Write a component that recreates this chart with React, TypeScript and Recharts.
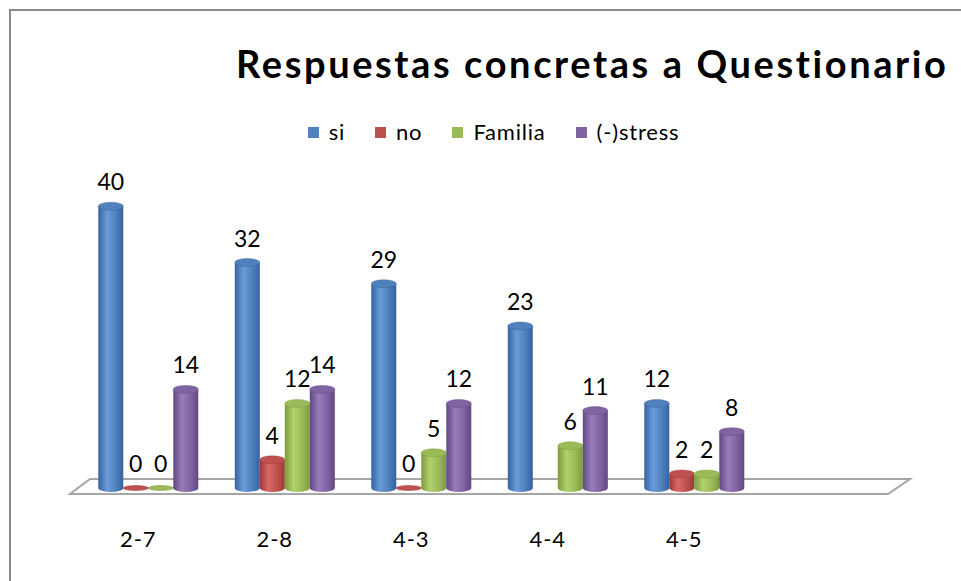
import React from "react";
import { BarChart, Bar, XAxis, YAxis, LabelList, Legend, ReferenceArea } from "recharts";

const categories = ["2-7", "2-8", "4-3", "4-4", "4-5", ""];
const siValues = [40, 32, 29, 23, 12, null];
const noValues = [0, 4, 0, null, 2, null];
const familiaValues = [0, 12, 5, 6, 2, null];
const stressValues = [14, 14, 12, 11, 8, null];

const seriesDefs = [
  { key: "si", name: "si", color: "#4F81BD", light: "#6a9bdb", dark: "#35639c" },
  { key: "no", name: "no", color: "#C0504D", light: "#d96966", dark: "#9c3835" },
  { key: "familia", name: "Familia", color: "#9BBB59", light: "#b0d16c", dark: "#7c9a3e" },
  { key: "stress", name: "(-)stress", color: "#8064A2", light: "#977bbb", dark: "#5f4882" },
];

const data = categories.map((c, i) => ({
  cat: c,
  si: siValues[i],
  no: noValues[i],
  familia: familiaValues[i],
  stress: stressValues[i],
}));

const FONT = "Lato, 'Open Sans', sans-serif";

function makeCylinder(def: any) {
  return (props: any) => {
    const { x, y, width, height, payload } = props;
    if (payload == null || payload[def.key] == null) return <g />;
    const rx = width / 2;
    const cx = x + rx;
    const h = Math.max(0, height || 0);
    const gid = "grad-" + def.key;
    if (h < 1) {
      return (
        <g>
          <ellipse cx={cx} cy={y + h} rx={rx} ry={2.5} fill={def.color} stroke={def.dark} strokeWidth={0.5} />
        </g>
      );
    }
    const ry = 4;
    return (
      <g>
        <defs>
          <linearGradient id={gid} x1="0" y1="0" x2="1" y2="0">
            <stop offset="0%" stopColor={def.dark} />
            <stop offset="35%" stopColor={def.light} />
            <stop offset="70%" stopColor={def.color} />
            <stop offset="100%" stopColor={def.dark} />
          </linearGradient>
        </defs>
        <ellipse cx={cx} cy={y + h} rx={rx} ry={ry} fill={`url(#${gid})`} />
        <rect x={x} y={y} width={width} height={h} fill={`url(#${gid})`} />
        <ellipse cx={cx} cy={y} rx={rx} ry={ry} fill={def.color} stroke={def.dark} strokeWidth={0.4} />
      </g>
    );
  };
}

const Floor = (props: any) => {
  const { x, y, width, height } = props;
  const base = y + height;
  const pts = [
    [x + 10, base - 9],
    [x + width + 11, base - 9],
    [x + width - 11, base + 6],
    [x - 10, base + 6],
  ]
    .map((p) => p.join(","))
    .join(" ");
  return <polygon points={pts} fill="#ffffff" stroke="#a6a6a6" strokeWidth={2} />;
};

const XTick = (props: any) => {
  const { x, y, payload } = props;
  return (
    <text x={x - 10} y={y + 59} textAnchor="middle" fontSize={22} fontFamily={FONT} fill="#000" letterSpacing={1}>
      {payload.value}
    </text>
  );
};

const LegendContent = () => (
  <div
    style={{
      display: "flex",
      justifyContent: "center",
      alignItems: "center",
      paddingLeft: 26,
      fontFamily: FONT,
      fontSize: 22,
      lineHeight: "28px",
      color: "#000",
    }}
  >
    {seriesDefs.map((s, i) => (
      <div key={s.key} style={{ display: "flex", alignItems: "center", marginRight: i < seriesDefs.length - 1 ? 30 : 0 }}>
        <span style={{ display: "inline-block", width: 11, height: 11, background: s.color, marginRight: 10 }} />
        <span style={{ letterSpacing: 0.8 }}>{s.name}</span>
      </div>
    ))}
  </div>
);

export default function App() {
  return (
    <div
      style={{
        position: "absolute",
        left: 0,
        top: 0,
        width: 961,
        height: 581,
        overflow: "hidden",
        background: "#fff",
      }}
    >
      <div
        style={{
          position: "absolute",
          left: 9,
          top: 9,
          width: 2000,
          height: 2000,
          border: "2px solid #8a8a8a",
        }}
      />
      <div
        style={{
          position: "absolute",
          left: 236,
          top: 40,
          whiteSpace: "nowrap",
          fontFamily: FONT,
          fontWeight: 700,
          fontSize: 38,
          lineHeight: "46px",
          color: "#000",
          letterSpacing: 2.6,
        }}
      >
        Respuestas concretas a Questionario
      </div>
      <div style={{ position: "absolute", left: 0, top: 0 }}>
        <BarChart
          width={961}
          height={581}
          data={data}
          margin={{ top: 171, right: 62, bottom: 33, left: 80 }}
          barCategoryGap="13.4%"
          barGap={0}
        >
          <XAxis
            dataKey="cat"
            height={60}
            axisLine={false}
            tickLine={false}
            tickSize={0}
            tickMargin={0}
            interval={0}
            tick={<XTick />}
          />
          <YAxis hide domain={[0, 45]} />
          <ReferenceArea y1={0} y2={1} shape={<Floor />} ifOverflow="visible" />
          <Legend
            verticalAlign="middle"
            align="center"
            content={<LegendContent />}
            wrapperStyle={{ top: 118, left: 0, width: 961 }}
          />
          {seriesDefs.map((s) => (
            <Bar
              key={s.key}
              dataKey={s.key}
              name={s.name}
              fill={s.color}
              isAnimationActive={false}
              shape={makeCylinder(s)}
            >
              <LabelList
                dataKey={s.key}
                position="top"
                offset={16}
                fontSize={23}
                fontFamily={FONT}
                fill="#000"
              />
            </Bar>
          ))}
        </BarChart>
      </div>
    </div>
  );
}
